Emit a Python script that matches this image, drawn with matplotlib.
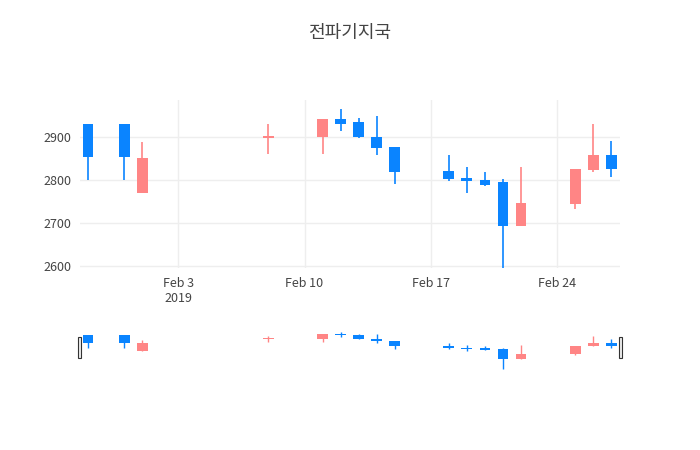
import matplotlib
matplotlib.use("Agg")
import matplotlib.pyplot as plt
import matplotlib.dates as mdates
import numpy as np
import datetime as dt

dates = ["2019-01-29","2019-01-31","2019-02-01","2019-02-08","2019-02-11","2019-02-12","2019-02-13",
         "2019-02-14","2019-02-15","2019-02-18","2019-02-19","2019-02-20","2019-02-21","2019-02-22",
         "2019-02-25","2019-02-26","2019-02-27"]
opens  = [2932,2932,2770,2898,2900,2942,2935,2900,2877,2821,2805,2800,2795,2693,2744,2823,2858]
highs  = [2932,2932,2888,2930,2942,2965,2946,2949,2877,2858,2830,2819,2802,2830,2826,2930,2891]
lows   = [2800,2800,2770,2860,2860,2914,2898,2858,2791,2798,2770,2786,2586,2693,2733,2820,2807]
closes = [2853,2853,2851,2902,2942,2932,2900,2874,2819,2802,2798,2788,2693,2746,2826,2858,2826]
title = "전파기지국"

plt.rcParams['font.family'] = ['Noto Sans CJK KR', 'DejaVu Sans']
UP, DOWN = "#FF8585", "#0A84FF"
x = mdates.date2num([dt.datetime.strptime(d, "%Y-%m-%d") for d in dates])
o, h, l, c = map(np.array, (opens, highs, lows, closes))
cols = [UP if cc >= oo else DOWN for oo, cc in zip(o, c)]

fig = plt.figure(figsize=(7, 4.5), dpi=100)
xmin = mdates.date2num(dt.datetime(2019, 1, 28, 13))
xmax = mdates.date2num(dt.datetime(2019, 2, 27, 12))

def draw(ax, lw):
    ax.vlines(x, l, h, colors=cols, linewidth=lw, zorder=2)
    ax.bar(x, np.abs(c - o), bottom=np.minimum(o, c), width=0.6, color=cols, zorder=3)
    ax.set_xlim(xmin, xmax)

ax = fig.add_axes([0.114, 0.404, 0.772, 0.373])
draw(ax, 1.2)
ax.set_ylim(2595, 2986)
ax.set_yticks([2600, 2700, 2800, 2900])
ticks = mdates.date2num([dt.datetime(2019, 2, d) for d in (3, 10, 17, 24)])
ax.set_xticks(ticks)
ax.set_xticklabels(["Feb 3\n2019", "Feb 10", "Feb 17", "Feb 24"])
ax.grid(True, color="#eeeeee", linewidth=1, zorder=0)
for s in ax.spines.values():
    s.set_visible(False)
ax.tick_params(length=0, labelsize=9, colors="#444444", pad=6)
ax.set_title(title, fontsize=13, color="#444444", pad=45)

sl = fig.add_axes([0.114, 0.178, 0.772, 0.085])
draw(sl, 1.0)
sl.set_ylim(2580, 2970)
sl.set_xticks([]); sl.set_yticks([])
for s in sl.spines.values():
    s.set_visible(False)
for xp in (xmin, xmax):
    sl.add_patch(plt.Rectangle((xp - 0.08, 2700), 0.16, 220, facecolor="#eeeeee",
                               edgecolor="#333333", linewidth=0.8, clip_on=False, zorder=5))
fig.savefig("out.png", dpi=100)
